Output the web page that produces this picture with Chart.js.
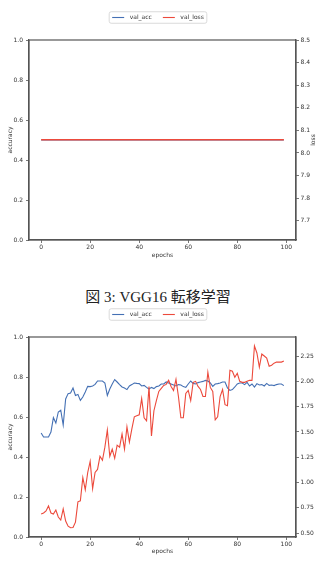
<!DOCTYPE html>
<html>
<head>
<meta charset="utf-8">
<script src="https://cdn.jsdelivr.net/npm/chart.js@4.4.1/dist/chart.umd.min.js"></script>
<style>
  body { margin: 0; background: #fff; width: 316px; height: 561px; position: relative; overflow: hidden; }
  canvas { position: absolute; left: 0; }
  #caption { position: absolute; left: 0; top: 288px; width: 316px; text-align: center;
             font: 15px "Liberation Serif", "Noto Sans CJK JP", serif; line-height: 18px; color: #222; }
</style>
</head>
<body>
<canvas id="cvs1" width="316" height="270" style="top:0"></canvas>
<div id="caption">図 3: VGG16 転移学習</div>
<canvas id="cvs2" width="316" height="264" style="top:297px"></canvas>
<script>
/*==========| data |========== */
const xTicks = [0, 20, 40, 60, 80, 100];
const accTicks = [0.0, 0.2, 0.4, 0.6, 0.8, 1.0];
const lossTicks1 = [7.7, 7.8, 7.9, 8.0, 8.1, 8.2, 8.3, 8.4, 8.5];
const lossTicks2 = [0.50, 0.75, 1.00, 1.25, 1.50, 1.75, 2.00, 2.25];

// first run: stuck at chance level
const valAcc1 = [
  0.5,0.5,0.5,0.5,0.5,0.5,0.5,0.5,0.5,0.5,0.5,0.5,0.5,0.5,0.5,0.5,0.5,0.5,0.5,0.5,
  0.5,0.5,0.5,0.5,0.5,0.5,0.5,0.5,0.5,0.5,0.5,0.5,0.5,0.5,0.5,0.5,0.5,0.5,0.5,0.5,
  0.5,0.5,0.5,0.5,0.5,0.5,0.5,0.5,0.5,0.5,0.5,0.5,0.5,0.5,0.5,0.5,0.5,0.5,0.5,0.5,
  0.5,0.5,0.5,0.5,0.5,0.5,0.5,0.5,0.5,0.5,0.5,0.5,0.5,0.5,0.5,0.5,0.5,0.5,0.5,0.5,
  0.5,0.5,0.5,0.5,0.5,0.5,0.5,0.5,0.5,0.5,0.5,0.5,0.5,0.5,0.5,0.5,0.5,0.5,0.5,0.5
];
const valLoss1 = [
  8.059,8.059,8.059,8.059,8.059,8.059,8.059,8.059,8.059,8.059,8.059,8.059,8.059,8.059,8.059,8.059,8.059,8.059,8.059,8.059,
  8.059,8.059,8.059,8.059,8.059,8.059,8.059,8.059,8.059,8.059,8.059,8.059,8.059,8.059,8.059,8.059,8.059,8.059,8.059,8.059,
  8.059,8.059,8.059,8.059,8.059,8.059,8.059,8.059,8.059,8.059,8.059,8.059,8.059,8.059,8.059,8.059,8.059,8.059,8.059,8.059,
  8.059,8.059,8.059,8.059,8.059,8.059,8.059,8.059,8.059,8.059,8.059,8.059,8.059,8.059,8.059,8.059,8.059,8.059,8.059,8.059,
  8.059,8.059,8.059,8.059,8.059,8.059,8.059,8.059,8.059,8.059,8.059,8.059,8.059,8.059,8.059,8.059,8.059,8.059,8.059,8.059
];

// second run: VGG16 transfer learning
const valAcc2 = [
  0.52,0.50,0.50,0.50,0.525,0.597,0.57,0.625,0.634,0.56,
  0.69,0.717,0.72,0.745,0.708,0.713,0.683,0.70,0.725,0.753,
  0.752,0.755,0.763,0.78,0.78,0.78,0.77,0.708,0.74,0.765,
  0.787,0.775,0.762,0.75,0.745,0.737,0.755,0.762,0.77,0.768,
  0.767,0.755,0.758,0.748,0.74,0.748,0.742,0.752,0.755,0.765,
  0.765,0.775,0.77,0.765,0.76,0.755,0.762,0.76,0.752,0.748,
  0.765,0.78,0.768,0.765,0.772,0.775,0.778,0.783,0.78,0.77,
  0.753,0.765,0.767,0.77,0.775,0.775,0.745,0.733,0.737,0.75,
  0.765,0.77,0.77,0.762,0.773,0.755,0.765,0.75,0.767,0.76,
  0.762,0.755,0.768,0.758,0.76,0.757,0.762,0.765,0.765,0.757
];
const valLoss2 = [
  0.69,0.70,0.72,0.77,0.70,0.69,0.73,0.66,0.63,0.74,
  0.62,0.57,0.555,0.556,0.61,0.81,0.82,1.05,0.93,1.10,
  1.21,0.94,1.10,1.13,1.26,1.22,1.35,1.52,1.26,1.33,
  1.24,1.37,1.35,1.48,1.33,1.55,1.40,1.53,1.65,1.66,
  1.67,1.83,1.64,1.61,1.95,1.46,1.71,1.81,1.90,1.93,
  1.96,1.97,2.01,1.95,1.91,2.02,1.85,1.64,1.64,1.88,
  1.91,1.81,1.99,2.00,1.95,1.92,1.85,1.85,2.09,1.94,
  1.90,1.62,1.65,1.85,1.92,1.77,1.76,2.11,2.10,2.04,
  2.08,2.00,1.99,1.99,2.00,2.01,2.01,2.35,2.28,2.14,
  2.27,2.25,2.23,2.15,2.16,2.18,2.19,2.19,2.19,2.20
];

/*==========| styles |========== */
const clrAcc  = '#4470b4';
const clrLoss = '#ec4a3c';
const spine   = '#555';
const txtClr  = '#333';
const font6   = { family: '"DejaVu Sans"', size: 6 };

const toPoints = arr => arr.map((v, i) => ({ x: i, y: v }));

// frame round the plot, matplotlib-like legend box and right axis label
const decoPlugin = {
    id: 'deco',
    afterDatasetsDraw(chart) {
        const { ctx, chartArea: a } = chart;
        ctx.save();
        ctx.strokeStyle = spine;
        ctx.lineWidth = 1.2;
        ctx.strokeRect(a.left, a.top, a.right - a.left, a.bottom - a.top);
        ctx.restore();
    },
    afterDraw(chart, args, opts) {
        const { ctx, chartArea: a } = chart;
        ctx.save();
        ctx.font = '6px "DejaVu Sans"';
        ctx.textBaseline = 'middle';
        const items = chart.data.datasets.map(ds => ({ label: ds.label, color: ds.borderColor }));
        const pad = 3, lineLen = 12, gapLine = 5.5, gapItem = 11;
        let w = pad * 2;
        items.forEach((it, i) => {
            it.tw = ctx.measureText(it.label).width;
            w += lineLen + gapLine + it.tw + (i < items.length - 1 ? gapItem : 0);
        });
        const h = 11.5, cy = 17.5;
        const x0 = chart.width / 2 - w / 2, y0 = cy - h / 2;
        ctx.beginPath();
        ctx.roundRect(x0, y0, w, h, 2);
        ctx.fillStyle = 'rgba(255,255,255,0.8)';
        ctx.fill();
        ctx.strokeStyle = '#d0d0d0';
        ctx.lineWidth = 0.8;
        ctx.stroke();
        let x = x0 + pad;
        items.forEach(it => {
            ctx.beginPath();
            ctx.moveTo(x, cy);
            ctx.lineTo(x + lineLen, cy);
            ctx.strokeStyle = it.color;
            ctx.lineWidth = 1.1;
            ctx.stroke();
            x += lineLen + gapLine;
            ctx.fillStyle = txtClr;
            ctx.fillText(it.label, x, cy);
            x += it.tw + gapItem;
        });
        // right axis title, reading bottom to top (falls off the page when tick labels are wide)
        if (opts.lossTitle) {
            ctx.translate(313, (a.top + a.bottom) / 2);
            ctx.rotate(-Math.PI / 2);
            ctx.textAlign = 'center';
            ctx.fillStyle = txtClr;
            ctx.fillText('loss', 0, 0);
        }
        ctx.restore();
    }
};

let makeChart = (id, acc, loss, lossTicks, lossMin, lossMax, lossDigits, xAxisH, xTitlePad, lossWidth, lossTitle) => {
    let axisCommon = {
        grid: { drawOnChartArea: false, tickLength: 3, color: spine, lineWidth: 0.8 },
        border: { color: spine, width: 1.2 }
    };
    return new Chart(document.getElementById(id), {
        type: 'line',
        data: {
            datasets: [
                { label: 'val_acc', data: toPoints(acc), yAxisID: 'y', borderColor: clrAcc, order: 1 },
                { label: 'val_loss', data: toPoints(loss), yAxisID: 'y1', borderColor: clrLoss, borderWidth: lossWidth, order: 0 }
            ]
        },
        options: {
            responsive: false,
            animation: false,
            devicePixelRatio: 1,
            events: [],
            layout: { padding: { top: 40, left: 0, right: 0, bottom: 0 } },
            elements: {
                point: { radius: 0 },
                line: { borderWidth: 1.1, tension: 0, fill: false }
            },
            plugins: { legend: { display: false }, tooltip: { enabled: false }, deco: { lossTitle: lossTitle } },
            scales: {
                x: {
                    ...axisCommon,
                    type: 'linear',
                    min: -4.95,
                    max: 103.95,
                    afterBuildTicks: s => { s.ticks = xTicks.map(v => ({ value: v })); },
                    afterFit: s => { s.height = xAxisH; },
                    ticks: { font: font6, color: txtClr, padding: 1, maxRotation: 0, autoSkip: false,
                             callback: v => v.toFixed(0) },
                    title: { display: true, text: 'epochs', font: font6, color: txtClr,
                             padding: { top: 0, bottom: xTitlePad } }
                },
                y: {
                    ...axisCommon,
                    position: 'left',
                    min: 0,
                    max: 1,
                    afterBuildTicks: s => { s.ticks = accTicks.map(v => ({ value: v })); },
                    afterFit: s => { s.width = 29; },
                    ticks: { font: font6, color: txtClr, padding: 3, callback: v => v.toFixed(1) },
                    title: { display: true, text: 'accuracy', font: font6, color: txtClr,
                             padding: { top: 6.4, bottom: 0 } }
                },
                y1: {
                    ...axisCommon,
                    position: 'right',
                    min: lossMin,
                    max: lossMax,
                    afterBuildTicks: s => { s.ticks = lossTicks.map(v => ({ value: v })); },
                    afterFit: s => { s.width = 20; },
                    ticks: { font: font6, color: txtClr, padding: 1.5, callback: v => v.toFixed(lossDigits) }
                }
            }
        },
        plugins: [decoPlugin]
    });
}

makeChart('cvs1', valAcc1, valLoss1, lossTicks1, 7.615, 8.5, 1, 30, 11.4, 1.5, true);
makeChart('cvs2', valAcc2, valLoss2, lossTicks2, 0.463, 2.438, 2, 24, 5.7, 1.1, false);
</script>
</body>
</html>
